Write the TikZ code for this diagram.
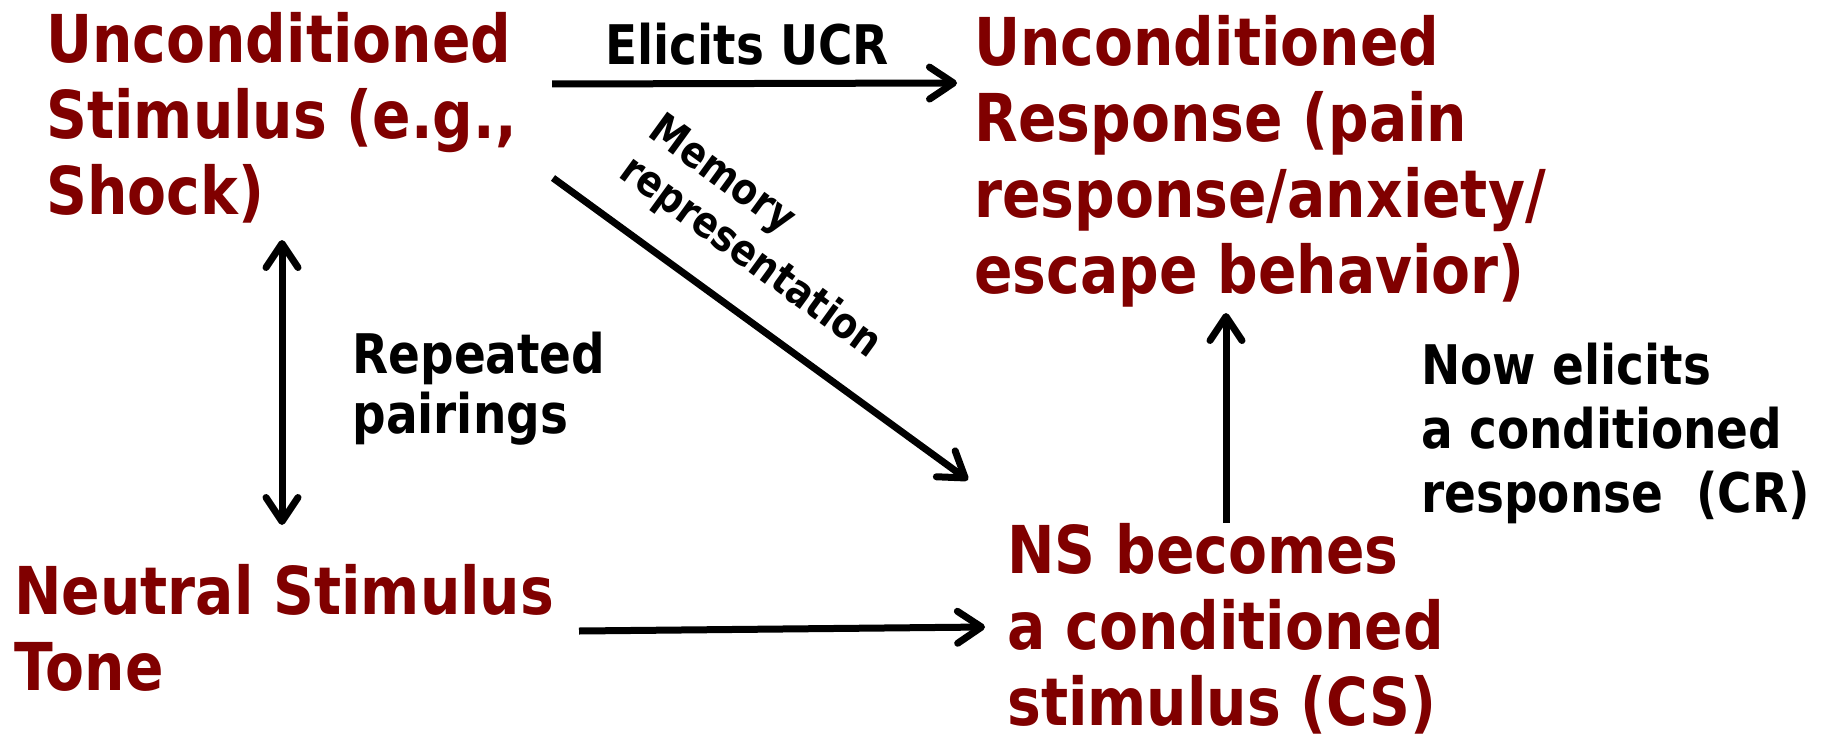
\documentclass[tikz,border=0pt]{standalone}
\usepackage{fontspec}
\setmainfont{DejaVu Sans}[FakeStretch=0.86]
\usetikzlibrary{arrows.meta}
\definecolor{termred}{RGB}{128,0,0}
\begin{document}
\begin{tikzpicture}[x=0.5pt,y=-0.5pt,
  % multi-line nodes are placed by the baseline of their last line
  term/.style={inner sep=0pt, anchor=base west, align=left, text=termred,
    font=\bfseries\fontsize{33}{38}\selectfont},
  note/.style={inner sep=0pt, anchor=base west, align=left,
    font=\bfseries\fontsize{27.3}{30}\selectfont},
  link/.style={line width=3.5pt, -{Straight Barb[length=12pt,width=16pt,round]}},
  twoway/.style={line width=3.5pt, {Straight Barb[length=12pt,width=16pt,round]}-{Straight Barb[length=12pt,width=16pt,round]}},
]
\useasboundingbox (0,0) rectangle (1823,738);

% stimulus and response terms
\node[term] (us) at (46,214)  {Unconditioned\\Stimulus (e.g.,\\Shock)};
\node[term] (ur) at (974,293) {Unconditioned\\Response (pain\\response/anxiety/\\escape behavior)};
\node[term] (ns) at (14,690) {Neutral Stimulus\\Tone};
\node[term] (cs) at (1007,725) {NS becomes\\a conditioned\\stimulus (CS)};

% labels on the links
\node[note] (elicit) at (605,65) {Elicits UCR};
\node[note, rotate=-36, font=\bfseries\fontsize{21.5}{25}\selectfont] (memory) at (617,176) {Memory\\representation};
\node[note] (pairing) at (352,433) {Repeated\\pairings};
\node[note, font=\bfseries\fontsize{27.3}{32}\selectfont] (nowcr) at (1421,512) {Now elicits\\a conditioned\\response\ \ (CR)};

% link end points
\coordinate (us-out)  at (552,84);
\coordinate (ur-in)   at (957,83);
\coordinate (us-diag) at (553,178);
\coordinate (cs-diag) at (968,480);
\coordinate (us-down) at (282,240);
\coordinate (ns-up)   at (282,525);
\coordinate (ns-out)  at (579,631);
\coordinate (cs-in)   at (985,627);
\coordinate (cs-up)   at (1226,523);
\coordinate (ur-up)   at (1226,313);

\draw[link] (us-out) -- (ur-in);
\draw[link] (us-diag) -- (cs-diag);
\draw[twoway] (us-down) -- (ns-up);
\draw[link] (ns-out) -- (cs-in);
\draw[link] (cs-up) -- (ur-up);
\end{tikzpicture}
\end{document}
